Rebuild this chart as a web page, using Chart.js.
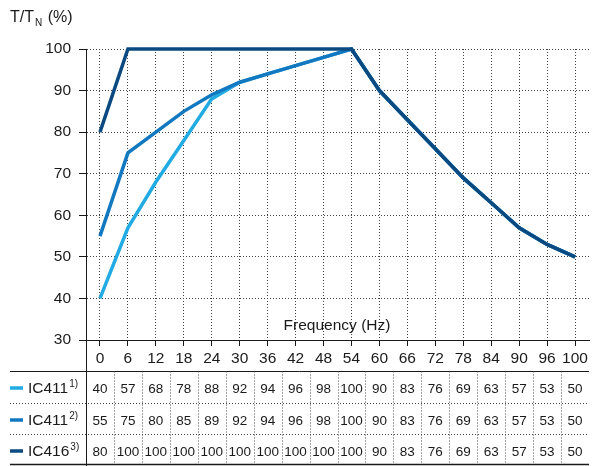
<!DOCTYPE html>
<html>
<head>
<meta charset="utf-8">
<script src="https://cdn.jsdelivr.net/npm/chart.js@4.4.0/dist/chart.umd.min.js"></script>
<style>
  html, body { margin: 0; padding: 0; background: #fff; }
  canvas { display: block; }
</style>
</head>
<body>
<canvas id="torque" width="595" height="466"></canvas>
<script>
// frequency steps (Hz) and torque ratio T/TN (%) per cooling type
const freqs = ['0', '6', '12', '18', '24', '30', '36', '42', '48', '54', '60', '66', '72', '78', '84', '90', '96', '100'];
const ic411a = [40, 57, 68, 78, 88, 92, 94, 96, 98, 100, 90, 83, 76, 69, 63, 57, 53, 50];
const ic411b = [55, 75, 80, 85, 89, 92, 94, 96, 98, 100, 90, 83, 76, 69, 63, 57, 53, 50];
const ic416 = [80, 100, 100, 100, 100, 100, 100, 100, 100, 100, 90, 83, 76, 69, 63, 57, 53, 50];
const seriesNames = ['IC411', 'IC411', 'IC416'];
const seriesNotes = ['1)', '2)', '3)'];
const seriesColors = ['#22abe3', '#1278c0', '#0b4a80'];
const yMin = 30, yMax = 100, yStep = 10;

const FONT = '"Liberation Sans", Arial, Helvetica, sans-serif';
const INK = '#1a1a1a';

function dotted(ctx, x1, y1, x2, y2) {
  ctx.save();
  ctx.setLineDash([1, 2]);
  ctx.lineWidth = 1;
  ctx.strokeStyle = '#444';
  ctx.beginPath();
  ctx.moveTo(x1, y1);
  ctx.lineTo(x2, y2);
  ctx.stroke();
  ctx.restore();
}

function solid(ctx, x1, y1, x2, y2, w) {
  ctx.save();
  ctx.lineWidth = w || 1;
  ctx.strokeStyle = INK;
  ctx.beginPath();
  ctx.moveTo(x1, y1);
  ctx.lineTo(x2, y2);
  ctx.stroke();
  ctx.restore();
}

// titles plus the value table under the x axis
const tablePlugin = {
  id: 'valueTable',
  afterDraw(chart) {
    const ctx = chart.ctx;
    const x = chart.scales.x;
    const area = chart.chartArea;
    const rows = [ic411a, ic411b, ic416];
    const rowY = [388, 420, 451];
    const tableTop = 371.5, tableBottom = 464.5;
    const left = 10, right = area.right;

    ctx.save();
    // y title T/TN (%)
    ctx.fillStyle = INK;
    ctx.textBaseline = 'alphabetic';
    ctx.textAlign = 'left';
    ctx.font = '16px ' + FONT;
    ctx.fillText('T/T', 10, 22);
    let w = ctx.measureText('T/T').width;
    ctx.font = '10px ' + FONT;
    ctx.fillText('N', 10 + w + 1, 26);
    let wn = ctx.measureText('N').width;
    ctx.font = '16px ' + FONT;
    ctx.fillText(' (%)', 10 + w + wn + 2, 22);

    // x title inside the plot
    ctx.font = '15.5px ' + FONT;
    ctx.textAlign = 'center';
    ctx.textBaseline = 'middle';
    ctx.fillText('Frequency (Hz)', 337, 326);

    // table rules
    solid(ctx, left, tableTop, right, tableTop, 1);
    solid(ctx, left, tableBottom, right, tableBottom, 1.5);
    solid(ctx, area.left + 0.5, area.bottom, area.left + 0.5, 466, 1);
    dotted(ctx, left, 403.5, right, 403.5);
    dotted(ctx, left, 434.5, right, 434.5);
    for (let i = 0; i < freqs.length - 1; i++) {
      const mx = Math.round((x.getPixelForValue(i) + x.getPixelForValue(i + 1)) / 2) + 0.5;
      dotted(ctx, mx, tableTop, mx, tableBottom);
    }

    // row labels with colour keys
    rows.forEach((vals, r) => {
      const cy = rowY[r];
      ctx.save();
      ctx.strokeStyle = seriesColors[r];
      ctx.lineWidth = 3.5;
      ctx.beginPath();
      ctx.moveTo(10, cy);
      ctx.lineTo(23, cy);
      ctx.stroke();
      ctx.restore();

      ctx.fillStyle = INK;
      ctx.textAlign = 'left';
      ctx.textBaseline = 'middle';
      ctx.font = '15.5px ' + FONT;
      ctx.fillText(seriesNames[r], 28, cy + 1);
      const nw = ctx.measureText(seriesNames[r]).width;
      ctx.font = '10px ' + FONT;
      ctx.fillText(seriesNotes[r], 28 + nw + 1, cy - 4);

      ctx.font = '13.5px ' + FONT;
      ctx.textAlign = 'center';
      vals.forEach((v, i) => {
        ctx.fillText(String(v), x.getPixelForValue(i), cy + 1);
      });
    });
    ctx.restore();
  }
};

const yTickValues = [];
for (let v = yMin; v <= yMax; v += yStep) yTickValues.push(v);

new Chart(document.getElementById('torque'), {
  type: 'line',
  data: {
    labels: freqs,
    datasets: [ic411a, ic411b, ic416].map((vals, i) => ({
      label: seriesNames[i] + seriesNotes[i],
      data: vals,
      borderColor: seriesColors[i],
      borderWidth: 3.5,
      pointRadius: 0,
      tension: 0,
      fill: false,
      clip: 6,
      order: 3 - i
    }))
  },
  options: {
    responsive: false,
    animation: false,
    events: [],
    layout: { padding: { left: 0, top: 49, right: 6, bottom: 0 } },
    plugins: {
      legend: { display: false },
      tooltip: { enabled: false },
      title: { display: false }
    },
    scales: {
      x: {
        type: 'category',
        offset: true,
        grid: {
          color: '#444',
          lineWidth: 1,
          drawOnChartArea: true,
          tickLength: 6,
          tickColor: INK,
          tickBorderDash: []
        },
        border: { display: true, color: INK, width: 1, dash: [1, 2] },
        ticks: {
          color: INK,
          font: { family: FONT, size: 15.5 },
          padding: 3,
          maxRotation: 0,
          autoSkip: false
        },
        afterFit(scale) { scale.height = 126; }
      },
      y: {
        min: yMin,
        max: yMax,
        afterBuildTicks(scale) { scale.ticks = yTickValues.map(v => ({ value: v })); },
        grid: {
          color: '#444',
          lineWidth: 1,
          tickLength: 7,
          tickColor: INK,
          tickBorderDash: []
        },
        border: { display: true, color: INK, width: 1, dash: [1, 2] },
        ticks: {
          color: INK,
          font: { family: FONT, size: 15.5 },
          padding: 8
        },
        afterFit(scale) { scale.width = 86; }
      }
    }
  },
  plugins: [tablePlugin]
});
</script>
</body>
</html>
